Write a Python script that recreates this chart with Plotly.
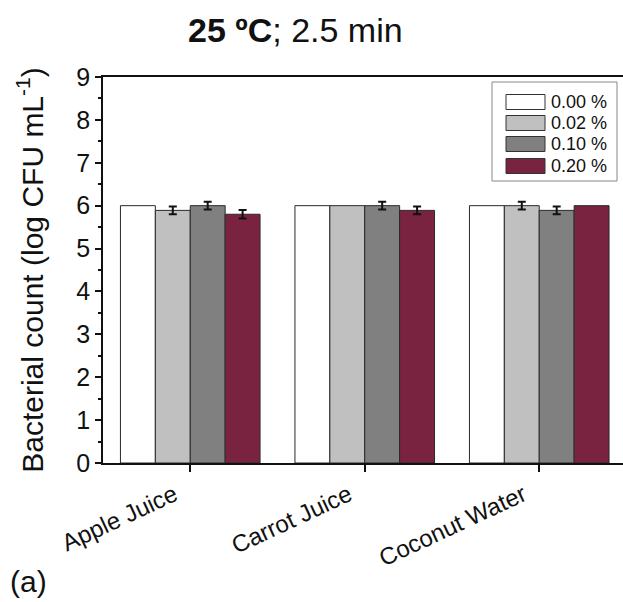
import numpy as np
import plotly.graph_objects as go

# Juice types on the x axis
categories = ["Apple Juice", "Carrot Juice", "Coconut Water"]

# Concentration series (legend labels)
series_names = ["0.00 %", "0.02 %", "0.10 %", "0.20 %"]

# Bacterial count, log CFU/mL, per series across the three juices
count_000 = [6.0, 6.0, 6.0]
count_002 = [5.89, 6.0, 6.0]
count_010 = [6.0, 6.0, 5.89]
count_020 = [5.80, 5.89, 6.0]

# Standard deviations (NaN = no error bar drawn)
sd_000 = [np.nan, np.nan, np.nan]
sd_002 = [0.09, np.nan, 0.09]
sd_010 = [0.09, 0.09, 0.09]
sd_020 = [0.10, 0.09, np.nan]

y_ticks = [0, 1, 2, 3, 4, 5, 6, 7, 8, 9]

fill_colors = ["#ffffff", "#c0c0c0", "#808080", "#7a2340"]
FONT = "Liberation Sans, Arial, sans-serif"

W, H = 623, 602
L, R, T, B = 103, 0, 77, 139

fig = go.Figure()
for name, vals, sds, col in zip(series_names,
                                [count_000, count_002, count_010, count_020],
                                [sd_000, sd_002, sd_010, sd_020],
                                fill_colors):
    fig.add_trace(go.Bar(
        x=categories, y=vals, name=name,
        marker=dict(color=col, line=dict(color="#2a2a2a", width=1)),
        error_y=dict(type="data", array=np.array(sds, dtype=float), visible=True,
                     color="#111111", thickness=2, width=4),
        showlegend=False,
    ))

fig.update_layout(
    width=W, height=H,
    margin=dict(l=L, r=R, t=T, b=B, pad=0),
    paper_bgcolor="white", plot_bgcolor="white",
    barmode="group", bargap=0.2, bargroupgap=0,
    font=dict(family=FONT, color="#111111"),
)

fig.update_xaxes(
    range=[-0.5, 2.48],
    showline=True, linecolor="#111111", linewidth=1.5, mirror=True,
    ticks="outside", ticklen=7, tickwidth=1.5, tickcolor="#111111",
    minor=dict(ticks="outside", ticklen=3, tickwidth=1.5, tickcolor="#111111",
               dtick=1, tick0=0.5),
    tickangle=-25,
    ticklabelshift=-16,
    ticklabelstandoff=0,
    tickfont=dict(size=24, family=FONT),
    showgrid=False,
)

fig.update_yaxes(
    range=[0, 9],
    tickvals=y_ticks,
    showline=True, linecolor="#111111", linewidth=1.5, mirror=False,
    ticks="outside", ticklen=6, tickwidth=1.5, tickcolor="#111111",
    minor=dict(ticks="outside", ticklen=3, tickwidth=1.5, tickcolor="#111111",
               dtick=0.5),
    tickfont=dict(size=25, family=FONT),
    showgrid=False, zeroline=False,
    title=dict(text="Bacterial count (log CFU mL<sup>-1</sup>)",
               font=dict(size=30, family=FONT), standoff=24),
)

plot_w = W - L - R
plot_h = H - T - B


def px_x(p):
    return (p - L) / plot_w


def px_y(p):
    return (H - B - p) / plot_h


annotations = [
    dict(text="<b>25 ºC</b>; 2.5 min", x=px_x(295), y=px_y(30),
         xref="paper", yref="paper", xanchor="center", yanchor="middle",
         showarrow=False, font=dict(size=34, family=FONT, color="#111111")),
    dict(text="(a)", x=px_x(8), y=px_y(581),
         xref="paper", yref="paper", xanchor="left", yanchor="middle",
         showarrow=False, font=dict(size=30, family=FONT, color="#111111")),
]

shapes = [
    dict(type="rect", xref="paper", yref="paper",
         x0=px_x(492), x1=px_x(617), y0=px_y(82), y1=px_y(181),
         line=dict(color="#888888", width=1), fillcolor="white", layer="above"),
]

row_y = [102, 123, 144, 166]
for name, col, ry in zip(series_names, fill_colors, row_y):
    shapes.append(dict(type="rect", xref="paper", yref="paper",
                       x0=px_x(506), x1=px_x(545), y0=px_y(ry - 7.5), y1=px_y(ry + 7.5),
                       line=dict(color="#333333", width=1), fillcolor=col, layer="above"))
    annotations.append(dict(text=name, x=px_x(549), y=px_y(ry),
                            xref="paper", yref="paper", xanchor="left", yanchor="middle",
                            showarrow=False,
                            font=dict(size=18, family=FONT, color="#111111")))

fig.update_layout(annotations=annotations, shapes=shapes)

fig.write_html("out.html")
